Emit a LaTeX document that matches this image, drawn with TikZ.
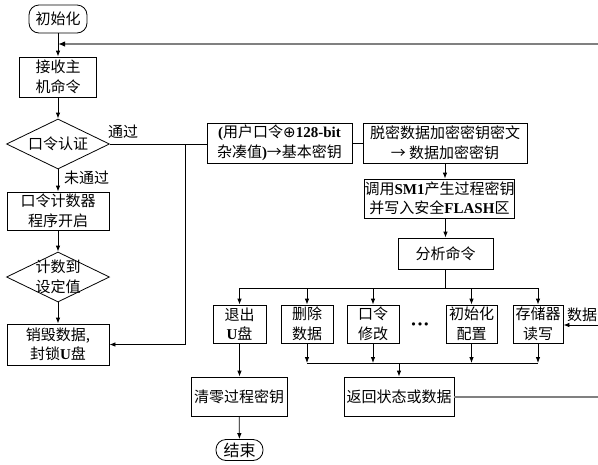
\documentclass[tikz,border=0pt]{standalone}
\usepackage{fontspec}
\setmainfont{Noto Sans CJK SC}
\newfontfamily\tnr{Liberation Serif}
\newfontfamily\dvs{DejaVu Sans}
\usetikzlibrary{arrows.meta,shapes.geometric}
\newcommand{\bl}[1]{{\tnr\bfseries #1}}
\begin{document}
\begin{tikzpicture}[x=1pt,y=-1pt,
  every node/.style={font=\fontsize{15}{19.5}\selectfont},
  box/.style={draw, line width=0.8pt, align=center, inner sep=0pt},
  dia/.style={draw, shape=diamond, line width=0.8pt, inner sep=0pt, minimum width=103pt, minimum height=50pt},
  stad/.style={draw, line width=0.8pt, rounded corners=10pt, inner sep=0pt},
  arr/.style={line width=0.8pt, -{Latex[length=6pt,width=4.5pt]}},
  ln/.style={line width=0.8pt},
  gln/.style={line width=1.4pt, draw=gray}]
\useasboundingbox (0,0) rectangle (598,464);
% left column
\node[stad, minimum width=58pt, minimum height=28pt] (init) at (58,19) {初始化};
\node[box, minimum width=77pt, minimum height=40pt] (recv) at (58,77) {接收主\\机命令};
\node[dia, label=center:{口令认证}] (auth) at (58,144) {};
\node[box, minimum width=102pt, minimum height=38pt] (cnt) at (58,211) {口令计数器\\程序开启};
\node[dia, minimum height=50pt, label={[align=center]center:计数到\\设定值}] (cntd) at (58,277) {};
\node[box, minimum width=102pt, minimum height=41pt] (destroy) at (58,344.5) {销毁数据,\\封锁\bl{U}盘};
\node[anchor=south west, inner sep=0pt] (pass) at (108,139) {通过};
\node[anchor=west, inner sep=0pt] (fail) at (64,178) {未通过};
% middle
\node[box, minimum width=145pt, minimum height=40pt] (key) at (279.5,143) {\bl{(}用户口令{\dvs\fontsize{15}{19}\selectfont ⊕}\bl{128-bit}\\杂凑值\bl{)}→基本密钥};
\node[box, minimum width=164pt, minimum height=40pt] (dec) at (445,143) {脱密数据加密密钥密文\\→ 数据加密密钥};
\node[box, minimum width=149pt, minimum height=39pt] (sm1) at (439.5,198.5) {调用\bl{SM1}产生过程密钥\\并写入安全\bl{FLASH}区};
\node[box, minimum width=95pt, minimum height=31pt] (ana) at (445.5,253.5) {分析命令};
\node[box, minimum width=53pt, minimum height=38pt] (b1) at (239.5,324) {退出\\\bl{U}盘};
\node[box, minimum width=52pt, minimum height=38pt] (b2) at (307,324) {删除\\数据};
\node[box, minimum width=52pt, minimum height=38pt] (b3) at (373,324) {口令\\修改};
\node[inner sep=0pt, font=\dvs\fontsize{11}{11}\selectfont] (dots) at (420,326) {•••};
\node[box, minimum width=51pt, minimum height=38pt] (b4) at (471.5,324) {初始化\\配置};
\node[box, minimum width=50pt, minimum height=38pt] (b5) at (538,324) {存储器\\读写};
\node[anchor=south west, inner sep=0pt] (data) at (567,322) {数据};
\node[box, minimum width=110pt, minimum height=39pt] (ret) at (399,396.5) {返回状态或数据};
\node[box, minimum width=96pt, minimum height=39pt] (clr) at (239,396.5) {清零过程密钥};
\node[stad, minimum width=47pt, minimum height=21pt, font=\fontsize{16}{16}\selectfont] (fin) at (239.5,450) {结束};
% coordinates
\coordinate (loopR) at (598,44);
\coordinate (retR) at (598,397);
\coordinate (dataR) at (598,325);
\coordinate (j) at (185,144);
\coordinate (bus) at (445.5,288);
\coordinate (bus2) at (399,363);
% connectors left
\draw[arr] (init) -- (recv);
\draw[gln, -{Latex[length=7pt,width=5.5pt,color=black]}] (loopR) -- (init.south |- loopR);
\draw[arr] (recv) -- (auth);
\draw[arr] (auth) -- (cnt);
\draw[arr] (cnt) -- (cntd);
\draw[arr] (cntd) -- (destroy);
\draw[ln] (auth.east) -- (key.west |- auth.east);
\draw[arr] (j) |- (destroy.east);
% middle
\draw[ln] (key.east) -- (dec.west);
\draw[arr] (dec.south) -- (dec.south |- sm1.north);
\draw[arr] (ana.north |- sm1.south) -- (ana.north);
\draw[ln] (ana.south) -- (bus);
\draw[ln] (b1.north |- bus) -- (b5.north |- bus);
\foreach \b in {b1,b2,b3,b4,b5} \draw[arr] (\b.north |- bus) -- (\b.north);
\draw[arr] (dataR) -- (b5.east |- dataR);
\foreach \b in {b2,b3,b4,b5} \draw[arr] (\b.south) -- (\b.south |- bus2);
\draw[ln] (b2.south |- bus2) -- (b5.south |- bus2);
\draw[arr] (bus2) -- (ret.north);
\draw[gln] (ret.east |- retR) -- (retR);
\draw[arr] (b1.south) -- (b1.south |- clr.north);
\draw[arr] (clr) -- (fin);
\end{tikzpicture}
\end{document}
